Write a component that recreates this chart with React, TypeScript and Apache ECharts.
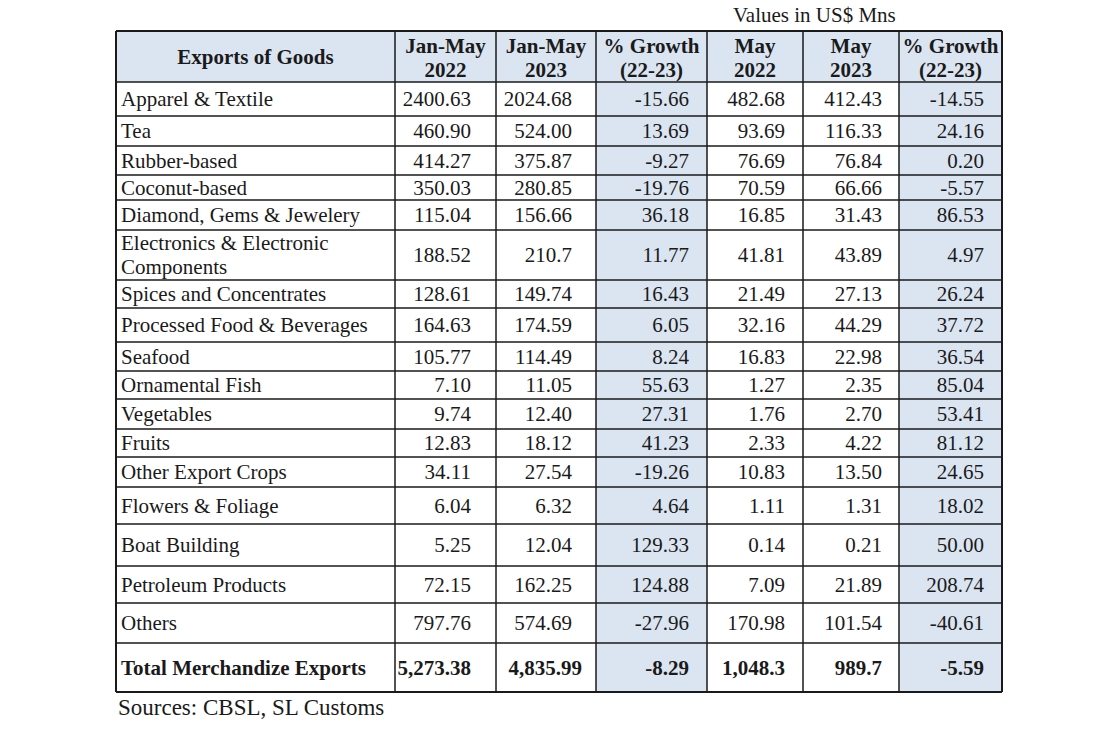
import React, { useEffect, useRef } from "react";
import * as echarts from "echarts";

// ---------- data ----------
const headerLine1 = ["Exports of Goods", "Jan-May", "Jan-May", "% Growth", "May", "May", "% Growth"];
const headerLine2 = ["", "2022", "2023", "(22-23)", "2022", "2023", "(22-23)"];

const categories = [
  "Apparel & Textile",
  "Tea",
  "Rubber-based",
  "Coconut-based",
  "Diamond, Gems & Jewelery",
  "Electronics & Electronic\nComponents",
  "Spices and Concentrates",
  "Processed Food & Beverages",
  "Seafood",
  "Ornamental Fish",
  "Vegetables",
  "Fruits",
  "Other Export Crops",
  "Flowers & Foliage",
  "Boat Building",
  "Petroleum Products",
  "Others",
  "Total Merchandize Exports",
];

const janMay2022 = ["2400.63", "460.90", "414.27", "350.03", "115.04", "188.52", "128.61", "164.63", "105.77", "7.10", "9.74", "12.83", "34.11", "6.04", "5.25", "72.15", "797.76", "5,273.38"];
const janMay2023 = ["2024.68", "524.00", "375.87", "280.85", "156.66", "210.7", "149.74", "174.59", "114.49", "11.05", "12.40", "18.12", "27.54", "6.32", "12.04", "162.25", "574.69", "4,835.99"];
const growthJanMay = ["-15.66", "13.69", "-9.27", "-19.76", "36.18", "11.77", "16.43", "6.05", "8.24", "55.63", "27.31", "41.23", "-19.26", "4.64", "129.33", "124.88", "-27.96", "-8.29"];
const may2022 = ["482.68", "93.69", "76.69", "70.59", "16.85", "41.81", "21.49", "32.16", "16.83", "1.27", "1.76", "2.33", "10.83", "1.11", "0.14", "7.09", "170.98", "1,048.3"];
const may2023 = ["412.43", "116.33", "76.84", "66.66", "31.43", "43.89", "27.13", "44.29", "22.98", "2.35", "2.70", "4.22", "13.50", "1.31", "0.21", "21.89", "101.54", "989.7"];
const growthMay = ["-14.55", "24.16", "0.20", "-5.57", "86.53", "4.97", "26.24", "37.72", "36.54", "85.04", "53.41", "81.12", "24.65", "18.02", "50.00", "208.74", "-40.61", "-5.59"];

const unitNote = "Values in US$ Mns";
const sourceNote = "Sources: CBSL, SL Customs";

// ---------- layout ----------
const colEdges = [116, 395, 496, 596, 707, 803, 899, 1002];
const rowEdges = [31, 82, 116, 146, 175, 200, 230, 280, 308, 342, 371, 399, 429, 457, 487, 524, 566, 603, 643, 692];
const valueRight = [471, 572, 689, 785, 882, 984];
const totalValueRight = [471, 582, 689, 785, 882, 984];
const shadedCols = [3, 6];
const FONT = "'Liberation Serif', 'Times New Roman', serif";
const BLUE = "#dbe5f1";
const INK = "#1a1a1a";

function txt(text: string, x: number, y: number, align: string, opts: any = {}) {
  return {
    type: "text",
    x,
    y,
    silent: true,
    z: 10,
    style: {
      text,
      fill: opts.fill || INK,
      fontFamily: FONT,
      fontSize: opts.fontSize || 21,
      fontWeight: opts.bold ? "bold" : "normal",
      lineHeight: opts.lineHeight || 24,
      align,
      verticalAlign: "middle",
      textAlign: align,
      textVerticalAlign: "middle",
    },
  };
}

export default function App() {
  const ref = useRef<HTMLDivElement>(null);

  useEffect(() => {
    if (!ref.current) return;
    const chart = echarts.init(ref.current, null, { renderer: "svg" });
    const els: any[] = [];
    const tableLeft = colEdges[0];
    const tableRight = colEdges[colEdges.length - 1];
    const tableTop = rowEdges[0];
    const tableBottom = rowEdges[rowEdges.length - 1];

    els.push({
      type: "rect",
      shape: { x: tableLeft, y: rowEdges[0], width: tableRight - tableLeft, height: rowEdges[1] - rowEdges[0] },
      style: { fill: BLUE },
      z: 1,
    });
    shadedCols.forEach((c) => {
      els.push({
        type: "rect",
        shape: { x: colEdges[c], y: rowEdges[1], width: colEdges[c + 1] - colEdges[c], height: tableBottom - rowEdges[1] },
        style: { fill: BLUE },
        z: 1,
      });
    });

    rowEdges.forEach((y, i) => {
      const outer = i === 0 || i === rowEdges.length - 1;
      els.push({
        type: "line",
        shape: { x1: tableLeft, y1: y, x2: tableRight, y2: y },
        style: { stroke: INK, lineWidth: outer ? 2 : 1.5 },
        z: 5,
      });
    });
    colEdges.forEach((x, i) => {
      const outer = i === 0 || i === colEdges.length - 1;
      els.push({
        type: "line",
        shape: { x1: x, y1: tableTop, x2: x, y2: tableBottom },
        style: { stroke: INK, lineWidth: outer ? 2 : 1.5 },
        z: 5,
      });
    });

    const hTop = rowEdges[0];
    const hBot = rowEdges[1];
    headerLine1.forEach((h, c) => {
      const cx = (colEdges[c] + colEdges[c + 1]) / 2;
      if (headerLine2[c]) {
        els.push(txt(h, cx, hTop + 15, "center", { bold: true }));
        els.push(txt(headerLine2[c], cx, hTop + 39, "center", { bold: true }));
      } else {
        els.push(txt(h, cx, (hTop + hBot) / 2, "center", { bold: true }));
      }
    });

    const columns = [janMay2022, janMay2023, growthJanMay, may2022, may2023, growthMay];
    categories.forEach((cat, r) => {
      const y0 = rowEdges[r + 1];
      const y1 = rowEdges[r + 2];
      const cy = (y0 + y1) / 2;
      const isTotal = r === categories.length - 1;
      els.push(txt(cat, colEdges[0] + 5, cy, "left", { bold: isTotal }));
      columns.forEach((col, c) => {
        const xr = isTotal ? totalValueRight[c] : valueRight[c];
        els.push(txt(col[r], xr, cy, "right", { bold: isTotal }));
      });
    });

    els.push(txt(unitNote, 733, 15, "left", { fontSize: 21 }));
    els.push(txt(sourceNote, 118, 707, "left", { fontSize: 23 }));

    chart.setOption({
      animation: false,
      backgroundColor: "#ffffff",
      graphic: { elements: els },
    });
    return () => chart.dispose();
  }, []);

  return (
    <div
      ref={ref}
      style={{ position: "fixed", left: 0, top: 0, width: 1100, height: 732, background: "#fff" }}
    />
  );
}
